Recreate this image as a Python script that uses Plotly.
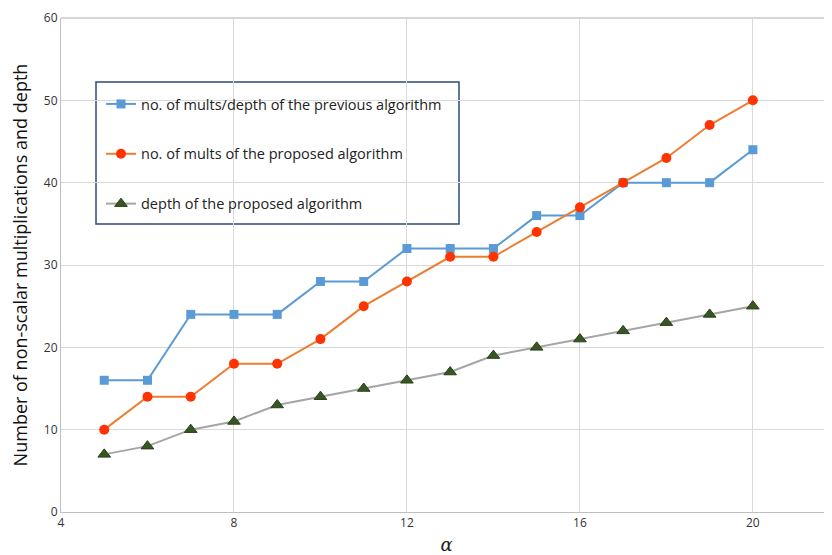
import plotly.graph_objects as go

alpha = [5, 6, 7, 8, 9, 10, 11, 12, 13, 14, 15, 16, 17, 18, 19, 20]
prev_alg = [16, 16, 24, 24, 24, 28, 28, 32, 32, 32, 36, 36, 40, 40, 40, 44]
prop_mults = [10, 14, 14, 18, 18, 21, 25, 28, 31, 31, 34, 37, 40, 43, 47, 50]
prop_depth = [7, 8, 10, 11, 13, 14, 15, 16, 17, 19, 20, 21, 22, 23, 24, 25]
x_ticks = [4, 8, 12, 16, 20]
y_ticks = [0, 10, 20, 30, 40, 50, 60]

names = ["no. of mults/depth of the previous algorithm",
         "no. of mults of the proposed algorithm",
         "depth of the proposed algorithm"]

PH = 494  # plot height in px (window y 18 .. 512)

fig = go.Figure()
fig.add_trace(go.Scatter(x=alpha, y=prev_alg, mode="lines+markers", name=names[0],
                         legendgroup="a",
                         line=dict(color="#5B9BD5", width=2),
                         marker=dict(symbol="square", size=9, color="#5B9BD5")))
fig.add_trace(go.Scatter(x=alpha, y=prop_mults, mode="lines+markers", name=names[1],
                         legendgroup="b",
                         line=dict(color="#ED7D31", width=2),
                         marker=dict(symbol="circle", size=10, color="#FF3300")))
fig.add_trace(go.Scatter(x=alpha, y=prop_depth, mode="lines+markers", name=names[2],
                         legendgroup="c",
                         line=dict(color="#A5A5A5", width=2),
                         marker=dict(symbol="triangle-up", size=11, color="#375623",
                                     line=dict(color="#2A4019", width=1))))

# top border line of the plot area (the 60 gridline)
fig.add_shape(type="line", xref="paper", yref="paper", x0=0, x1=1, y0=1, y1=1,
              line=dict(color="#C8C8C8", width=1.5), layer="below")

fig.add_shape(type="rect", xref="paper", yref="paper",
              x0=(96 - 61) / 771, x1=(459 - 61) / 771,
              y0=(512 - 224) / PH, y1=(512 - 82) / PH,
              line=dict(color="#2F4A73", width=1.5), fillcolor="white", layer="below")

fig.update_layout(
    width=824, height=547,
    margin=dict(l=53, r=0, t=10, b=43, autoexpand=False),
    plot_bgcolor="white", paper_bgcolor="white",
    font=dict(family="Open Sans", color="#222222"),
    showlegend=True,
    legend=dict(x=(101 - 61) / 771, y=(512 - 88) / PH, xanchor="left", yanchor="top",
                bgcolor="rgba(0,0,0,0)", borderwidth=0,
                font=dict(size=14.5, color="#222222"), tracegroupgap=28),
    xaxis=dict(range=[4, 21.83], tickvals=x_ticks, showgrid=True, gridcolor="#D9D9D9",
               gridwidth=1, showline=True, linecolor="#BFBFBF", linewidth=1, zeroline=False,
               automargin=False, ticklabeloverflow="allow",
               tickfont=dict(size=12, color="#333333"), ticks="",
               title=dict(text="<i>α</i>", font=dict(size=18, family="DejaVu Serif"), standoff=7)),
    yaxis=dict(range=[0, 60], tickvals=y_ticks, showgrid=True, gridcolor="#D9D9D9",
               gridwidth=1, showline=True, linecolor="#BFBFBF", linewidth=1, zeroline=False,
               automargin=False, ticklabeloverflow="allow",
               tickfont=dict(size=12, color="#333333"), ticks="",
               title=dict(text="Number of non-scalar multiplications and depth",
                          font=dict(size=18, color="#111111"), standoff=14)),
)

fig.write_html("out.html")
